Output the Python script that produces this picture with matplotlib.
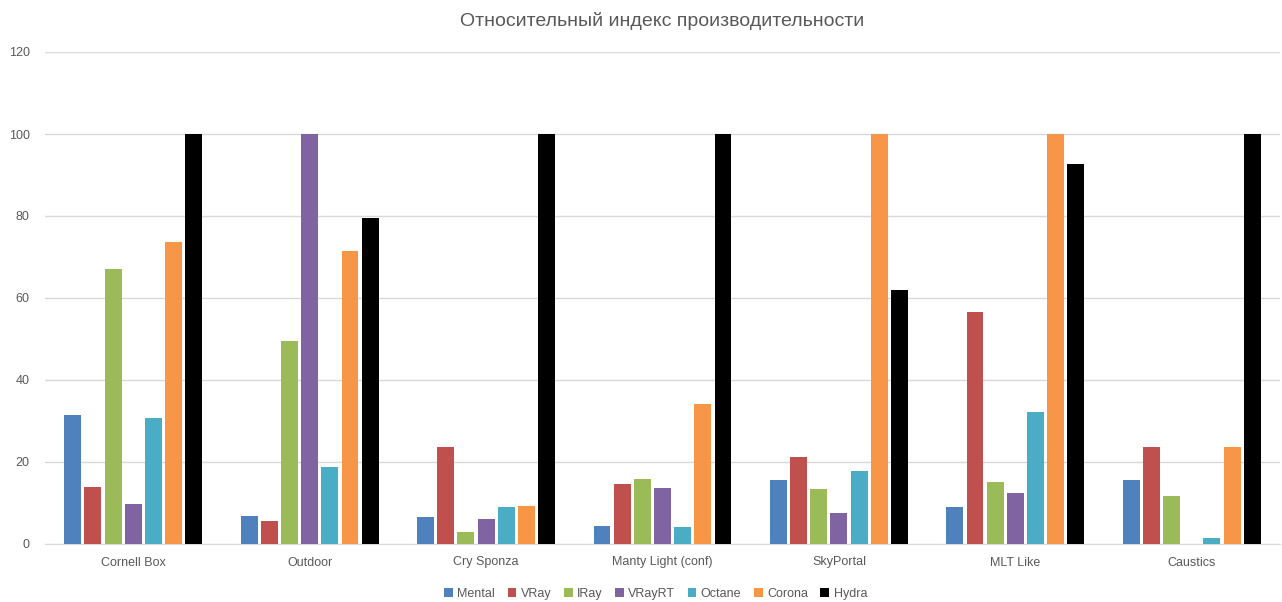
import numpy as np
import matplotlib
matplotlib.use("Agg")
import matplotlib.pyplot as plt

plt.rcParams['font.family'] = ['Liberation Sans', 'DejaVu Sans']

scenes = ["Cornell Box", "Outdoor", "Cry Sponza", "Manty Light (conf)",
          "SkyPortal", "MLT Like", "Caustics"]
renderers = ["Mental", "VRay", "IRay", "VRayRT", "Octane", "Corona", "Hydra"]
colors = ["#4F81BD", "#C0504D", "#9BBB59", "#8064A2", "#4BACC6", "#F79646", "#000000"]

mental = [31.5, 6.9, 6.6, 4.4, 15.7, 9.0, 15.7]
vray = [14.0, 5.5, 23.7, 14.7, 21.3, 56.5, 23.7]
iray = [67.0, 49.6, 2.9, 15.9, 13.3, 15.1, 11.8]
vrayrt = [9.8, 100.0, 6.1, 13.7, 7.6, 12.5, 0.0]
octane = [30.8, 18.8, 9.0, 4.1, 17.9, 32.3, 1.5]
corona = [73.7, 71.4, 9.3, 34.1, 100.0, 100.0, 23.7]
hydra = [100.0, 79.5, 100.0, 100.0, 61.9, 92.7, 100.0]
series = [mental, vray, iray, vrayrt, octane, corona, hydra]

fig = plt.figure(figsize=(12.82, 6.02), dpi=100)
ax = fig.add_axes([45 / 1282, 58 / 602, 1235 / 1282, 492 / 602])

x = np.arange(len(scenes))
slot = 0.8 / len(renderers)
for i, (name, vals, c) in enumerate(zip(renderers, series, colors)):
    ax.bar(x - 0.4 + slot * (i + 0.5), vals, width=slot * 0.84, color=c,
           linewidth=0, label=name, zorder=3)

ax.set_xlim(-0.5, len(scenes) - 0.5)
ax.set_ylim(0, 120)
ax.set_yticks(range(0, 121, 20))
ax.grid(axis="y", color="#d9d9d9", linewidth=1, zorder=0)
for s in ["top", "right", "left"]:
    ax.spines[s].set_visible(False)
ax.spines["bottom"].set_color("#d9d9d9")
ax.tick_params(length=0, colors="#595959", labelsize=9)
ax.tick_params(axis="y", pad=11)
ax.tick_params(axis="x", pad=9)
ax.set_xticks(x)
ax.set_xticklabels(scenes)

ax.set_title("Относительный индекс производительности", fontsize=14,
             color="#595959", pad=19)
ax.legend(loc="upper center", bbox_to_anchor=(0.5 - 45 / 1282 / 2 + 0.012, -0.066), ncol=7,
          frameon=False, fontsize=9, handlelength=0.7, handleheight=0.7,
          handletextpad=0.35, columnspacing=1.0, labelcolor="#595959")

fig.savefig("out.png", dpi=100)
